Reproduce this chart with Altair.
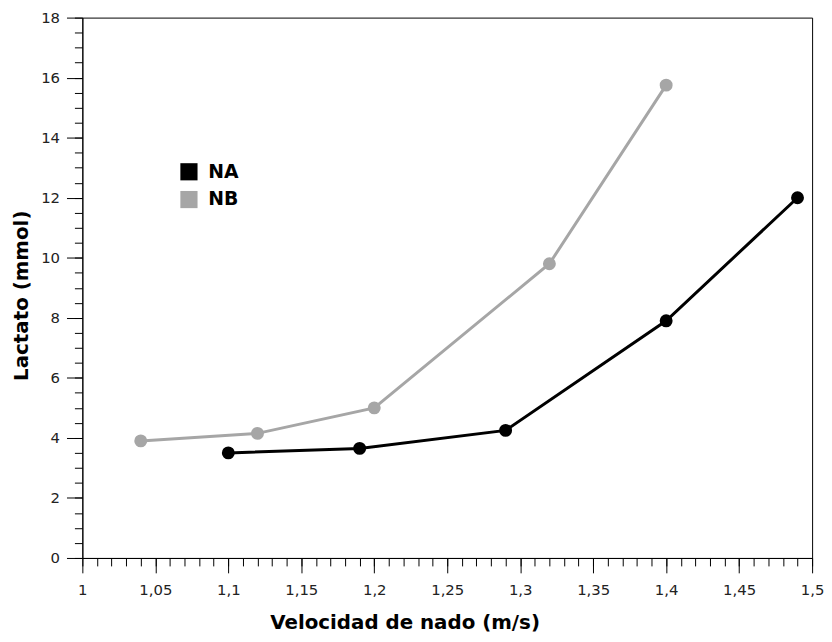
import altair as alt
import pandas as pd

# Data
na_x = [1.10, 1.19, 1.29, 1.40, 1.49]
na_y = [3.5, 3.65, 4.25, 7.9, 12.0]
nb_x = [1.04, 1.12, 1.20, 1.32, 1.40]
nb_y = [3.9, 4.15, 5.0, 9.8, 15.75]
series = ["NA", "NB"]
colors = ["#000000", "#a6a6a6"]

x_major = [1, 1.05, 1.1, 1.15, 1.2, 1.25, 1.3, 1.35, 1.4, 1.45, 1.5]
x_minor = [round(1 + i * 0.01, 2) for i in range(51)]
y_major = [0, 2, 4, 6, 8, 10, 12, 14, 16, 18]
y_minor = [i * 0.5 for i in range(37)]

df = pd.DataFrame({
    "vel": na_x + nb_x,
    "lac": na_y + nb_y,
    "serie": ["NA"] * len(na_x) + ["NB"] * len(nb_x),
})

LBL = "replace(toString(datum.value), '.', ',')"
TICK_FONT = "DejaVu Sans"
TITLE_FONT = "DejaVu Sans"

xscale = alt.Scale(domain=[1, 1.5], nice=False, zero=False)
yscale = alt.Scale(domain=[0, 18], nice=False)
cscale = alt.Scale(domain=series, range=colors)

x_axis = alt.Axis(values=x_major, labelExpr=LBL, tickSize=15, tickColor="black",
                  domainColor="black", labelFont=TICK_FONT, labelFontSize=15,
                  labelColor="#222", labelPadding=10, title="Velocidad de nado (m/s)",
                  titleFont=TITLE_FONT, titleFontSize=20, titleFontWeight="bold",
                  titleColor="black", titlePadding=15, titleX=325, titleAlign="center",
                  grid=False, orient="bottom", labelFlush=False, labelOverlap=False)
y_axis = alt.Axis(values=y_major, labelExpr=LBL, tickSize=16, tickColor="black",
                  domainColor="black", labelFont=TICK_FONT, labelFontSize=15,
                  labelColor="#222", labelPadding=7, title="Lactato (mmol)",
                  titleFont=TITLE_FONT, titleFontSize=20, titleFontWeight="bold",
                  titleColor="black", titlePadding=9, titleY=280, titleAlign="center",
                  grid=False, orient="left", labelFlush=False, labelOverlap=False)

base = alt.Chart(df)

lines = base.mark_line(strokeWidth=3).encode(
    x=alt.X("vel:Q", scale=xscale, axis=x_axis),
    y=alt.Y("lac:Q", scale=yscale, axis=y_axis),
    color=alt.Color("serie:N", scale=cscale, legend=alt.Legend(
        title=None, orient="none", legendX=98, legendY=146,
        symbolType="square", symbolSize=300, symbolStrokeWidth=0,
        labelFont=TITLE_FONT, labelFontSize=19, labelFontWeight="bold",
        labelColor="black", rowPadding=8, labelOffset=10)),
    detail="serie:N",
)
points = base.mark_circle(size=170, opacity=1).encode(
    x=alt.X("vel:Q", scale=xscale),
    y=alt.Y("lac:Q", scale=yscale),
    color=alt.Color("serie:N", scale=cscale, legend=None),
)

main = alt.layer(lines, points)

minor = base.mark_point(opacity=0).encode(
    x=alt.X("vel:Q", scale=xscale, axis=alt.Axis(
        values=x_minor, labels=False, tickSize=8, tickColor="black",
        domain=False, grid=False, title=None, orient="bottom")),
    y=alt.Y("lac:Q", scale=yscale, axis=alt.Axis(
        values=y_minor, labels=False, tickSize=8, tickColor="black",
        domain=False, grid=False, title=None, orient="left")),
)

chart = alt.layer(main, minor).resolve_axis(x="independent", y="independent").properties(
    width=736, height=545, padding={"left": 3, "top": 0, "right": 0, "bottom": 0}
).configure_view(stroke="black", strokeWidth=1)

chart.save("out.html", embed_options={"renderer": "svg", "actions": False})
